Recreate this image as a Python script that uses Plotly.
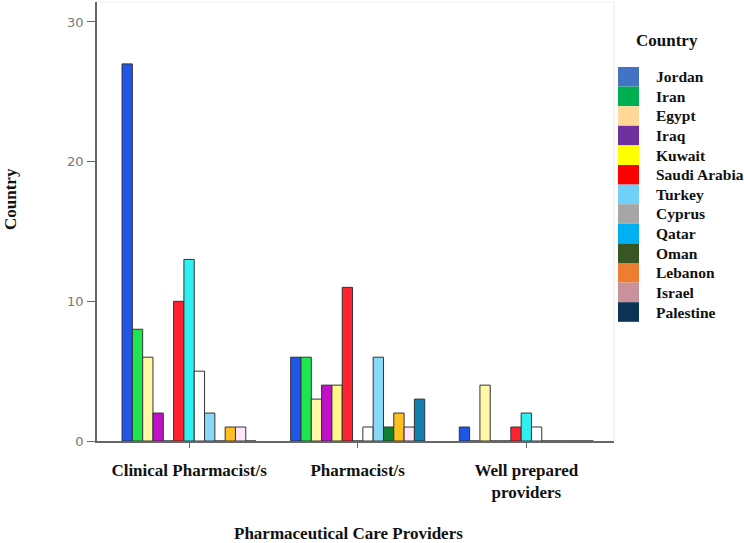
import plotly.graph_objects as go

categories = ["Clinical Pharmacist/s", "Pharmacist/s", "Well prepared providers"]
tick_labels = ["Clinical Pharmacist/s", "Pharmacist/s", "Well prepared<br>providers"]
countries = ["Jordan", "Iran", "Egypt", "Iraq", "Kuwait", "Saudi Arabia", "Turkey",
             "Cyprus", "Qatar", "Oman", "Lebanon", "Israel", "Palestine"]

jordan = [27, 6, 1]
iran = [8, 6, 0]
egypt = [6, 3, 4]
iraq = [2, 4, 0]
kuwait = [0, 4, 0]
saudi_arabia = [10, 11, 1]
turkey = [13, 0, 2]
cyprus = [5, 1, 1]
qatar = [2, 6, 0]
oman = [0, 1, 0]
lebanon = [1, 2, 0]
israel = [1, 1, 0]
palestine = [0, 3, 0]
series = [jordan, iran, egypt, iraq, kuwait, saudi_arabia, turkey,
          cyprus, qatar, oman, lebanon, israel, palestine]

bar_colors = ["#1f55e8", "#1ee650", "#fff6a6", "#c010c8", "#fff78a", "#ff2030", "#2ef0f0",
              "#ffffff", "#8ad8f8", "#0f8030", "#ffc020", "#ffe6fa", "#1080b0"]
legend_colors = ["#4472c4", "#00b050", "#ffd898", "#7030a0", "#ffff00", "#ff0000", "#70d0f8",
                 "#a6a6a6", "#00b0f0", "#375623", "#ed7d31", "#c9919a", "#0c3256"]

W, H = 744, 543
L, R, T, B = 97, 130, 2, 102
pw, ph = W - L - R, H - T - B

fig = go.Figure()
for name, vals, col in zip(countries, series, bar_colors):
    fig.add_trace(go.Bar(
        x=categories, y=vals, name=name, showlegend=False,
        marker=dict(color=col, line=dict(color="#333333", width=1)),
    ))

serif = "Liberation Serif"

def px_to_paper_x(px):
    return (px - L) / pw

def px_to_paper_y(py):
    return (H - B - py) / ph

shapes = []
annotations = []
# faint frame
shapes.append(dict(type="line", xref="paper", yref="paper", x0=0, x1=1, y0=1, y1=1,
                   line=dict(color="#eeeeee", width=1)))
shapes.append(dict(type="line", xref="paper", yref="paper", x0=1, x1=1, y0=0, y1=1,
                   line=dict(color="#eeeeee", width=1.5)))

# custom legend
sw_x0, sw_x1 = 618, 639
top, step = 67, 19.6
for i, (name, col) in enumerate(zip(countries, legend_colors)):
    y0 = top + i * step
    y1 = y0 + step
    shapes.append(dict(type="rect", xref="paper", yref="paper",
                       x0=px_to_paper_x(sw_x0), x1=px_to_paper_x(sw_x1),
                       y0=px_to_paper_y(y1), y1=px_to_paper_y(y0),
                       fillcolor=col, line=dict(width=0)))
    annotations.append(dict(xref="paper", yref="paper", x=px_to_paper_x(654),
                            y=px_to_paper_y((y0 + y1) / 2), text="<b>" + name + "</b>",
                            showarrow=False, xanchor="left", yanchor="middle",
                            font=dict(family=serif, size=15.5, color="#111111")))
annotations.append(dict(xref="paper", yref="paper", x=px_to_paper_x(667),
                        y=px_to_paper_y(40), text="<b>Country</b>", showarrow=False,
                        xanchor="center", yanchor="middle",
                        font=dict(family=serif, size=17, color="#111111")))
# axis titles
annotations.append(dict(xref="paper", yref="paper", x=px_to_paper_x(10), y=px_to_paper_y(199),
                        text="<b>Country</b>", showarrow=False, textangle=-90,
                        xanchor="center", yanchor="middle",
                        font=dict(family=serif, size=17, color="#111111")))
annotations.append(dict(xref="paper", yref="paper", x=px_to_paper_x(348), y=px_to_paper_y(533),
                        text="<b>Pharmaceutical Care Providers</b>", showarrow=False,
                        xanchor="center", yanchor="middle",
                        font=dict(family=serif, size=17, color="#111111")))

fig.update_layout(
    width=W, height=H,
    margin=dict(l=L, r=R, t=T, b=B, pad=0),
    paper_bgcolor="white", plot_bgcolor="white",
    barmode="group", bargap=0.205, bargroupgap=0,
    showlegend=False,
    shapes=shapes, annotations=annotations,
    xaxis=dict(
        range=[-0.546, 2.52], tickmode="array", tickvals=categories,
        ticktext=["<b>" + t + "</b>" for t in tick_labels],
        showline=True, linecolor="#666666", linewidth=1.5, showgrid=False, zeroline=False,
        ticks="outside", ticklen=5, tickcolor="#666666", ticklabelstandoff=8,
        tickfont=dict(family=serif, size=17, color="#111111"),
    ),
    yaxis=dict(
        range=[0, 31.43], tickvals=[0, 10, 20, 30],
        showline=True, linecolor="#666666", linewidth=1.5, showgrid=False, zeroline=False,
        ticks="outside", ticklen=8, tickcolor="#666666", ticklabelstandoff=1,
        tickfont=dict(family="DejaVu Sans", size=13, color="#777777"),
    ),
)

fig.write_html("out.html", config={"displayModeBar": False},
               post_script="document.body.style.margin='0';document.body.style.overflow='hidden';")
